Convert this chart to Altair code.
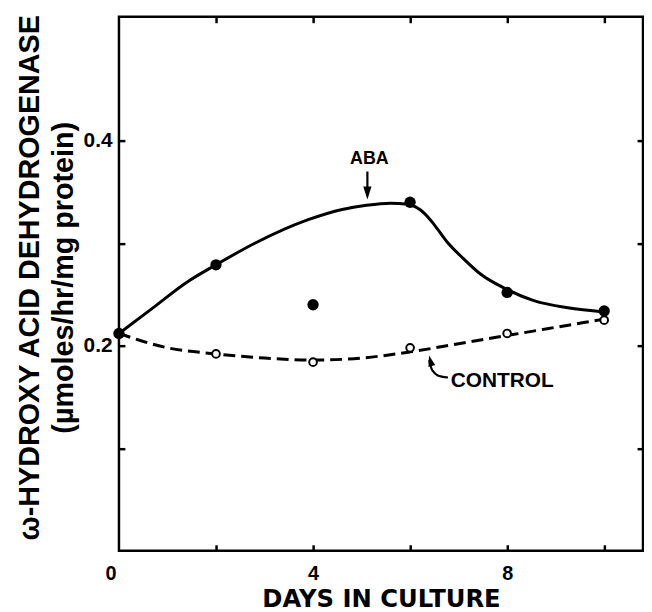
import altair as alt
import pandas as pd

# ---- data ----
days = [0, 2, 4, 6, 8, 10]
aba_values = [0.212, 0.279, 0.240, 0.340, 0.252, 0.234]
control_values = [0.212, 0.192, 0.184, 0.198, 0.212, 0.225]

aba_curve_days = [0, 0.7, 1.4, 2, 2.8, 3.9, 4.6, 5.1, 5.6, 5.95, 6.3, 6.5, 6.75, 7.1, 7.45, 7.95, 8.55, 9.25, 10]
aba_curve_values = [0.212, 0.237, 0.262, 0.279, 0.300, 0.323, 0.333, 0.337, 0.339, 0.338, 0.329, 0.318,
                    0.302, 0.285, 0.270, 0.256, 0.244, 0.237, 0.233]

control_curve_days = [0, 1, 2, 3, 4, 5, 6, 7, 8, 9, 10]
control_curve_values = [0.212, 0.198, 0.192, 0.188, 0.186, 0.188, 0.194, 0.202, 0.210, 0.218, 0.226]

x_tick_values = [2, 4, 6, 8, 10]
x_label_values = [0, 4, 8]
y_tick_values = [0.1, 0.2, 0.3, 0.4]
y_label_values = [0.2, 0.4]

aba_label = ["ABA"]
aba_label_day = [5.16]
aba_label_value = [0.382]
control_label = ["CONTROL"]
control_label_day = [6.84]
control_label_value = [0.166]

aba_arrow_days = [5.12, 5.12]
aba_arrow_values = [0.370, 0.352]
aba_tip_day = [5.12]
aba_tip_value = [0.3427]

control_arrow_days = [6.78, 6.57, 6.46, 6.41, 6.395]
control_arrow_values = [0.1690, 0.1710, 0.1760, 0.1824, 0.1860]
control_tip_day = [6.39]
control_tip_value = [0.1905]

# ---- tables ----
pts = pd.DataFrame({"day": days, "aba": aba_values, "control": control_values})
aba_curve = pd.DataFrame({"day": aba_curve_days, "value": aba_curve_values})
ctl_curve = pd.DataFrame({"day": control_curve_days, "value": control_curve_values})
aba_lab = pd.DataFrame({"day": aba_label_day, "value": aba_label_value, "text": aba_label})
ctl_lab = pd.DataFrame({"day": control_label_day, "value": control_label_value, "text": control_label})
aba_arrow = pd.DataFrame({"day": aba_arrow_days, "value": aba_arrow_values})
ctl_arrow = pd.DataFrame({"day": control_arrow_days, "value": control_arrow_values,
                          "order": list(range(len(control_arrow_days)))})
aba_tip = pd.DataFrame({"day": aba_tip_day, "value": aba_tip_value})
ctl_tip = pd.DataFrame({"day": control_tip_day, "value": control_tip_value})

xs = alt.Scale(domain=[0, 10.8], nice=False, zero=False)
ys = alt.Scale(domain=[0, 0.521], nice=False, zero=False)

LAB_FONT = "Liberation Sans"

x_label_axis = alt.Axis(
    orient="bottom", values=x_label_values, ticks=False, domain=False, grid=False,
    labelFont=LAB_FONT, labelFontSize=20, labelFontWeight="bold", labelColor="black",
    labelPadding=13,
    labelOffset={"condition": {"test": "datum.value === 0", "value": -14}, "value": 0},
    title="DAYS IN CULTURE", titleFont="DejaVu Sans", titleFontWeight="bold",
    titleFontSize=24.5, titleColor="black", titleBaseline="alphabetic", titleY=56,
)
y_label_axis = alt.Axis(
    orient="left", values=y_label_values, format=".1f", ticks=False, domain=False, grid=False,
    labelFont=LAB_FONT, labelFontSize=21, labelFontWeight="bold", labelColor="black",
    labelPadding=7,
    title=["ω-HYDROXY ACID DEHYDROGENASE", "(µmoles/hr/mg protein)"],
    titleFont=LAB_FONT, titleFontWeight="bold", titleFontSize=29, titleColor="black",
    titleLineHeight=34, titleBaseline="top", titleX=-104, titleY=263, titleAngle=270,
)


def tick_axis(orient, values):
    return alt.Axis(orient=orient, values=values, offset=-6, tickSize=6, tickWidth=2.5,
                    tickColor="black", labels=False, domain=False, grid=False, title=None)


def enc(chart, ycol="value"):
    return chart.encode(
        x=alt.X("day:Q", scale=xs, axis=None),
        y=alt.Y(f"{ycol}:Q", scale=ys, axis=None),
    )


aba_line = alt.Chart(aba_curve).mark_line(color="black", strokeWidth=3, interpolate="monotone").encode(
    x=alt.X("day:Q", scale=xs, axis=x_label_axis),
    y=alt.Y("value:Q", scale=ys, axis=y_label_axis),
)

ctl_line = alt.Chart(ctl_curve).mark_line(color="black", strokeWidth=3, strokeDash=[12, 6],
                                          interpolate="monotone").encode(
    x=alt.X("day:Q", scale=xs, axis=tick_axis("bottom", x_tick_values)),
    y=alt.Y("value:Q", scale=ys, axis=tick_axis("left", y_tick_values)),
)

ctl_pts = alt.Chart(pts).mark_point(shape="circle", filled=True, fill="white", stroke="black",
                                    strokeWidth=2, size=60, opacity=1).encode(
    x=alt.X("day:Q", scale=xs, axis=tick_axis("top", x_tick_values)),
    y=alt.Y("control:Q", scale=ys, axis=tick_axis("right", y_tick_values)),
)

aba_pts = enc(alt.Chart(pts).mark_point(shape="circle", filled=True, color="black", size=130, opacity=1), "aba")

aba_text = enc(alt.Chart(aba_lab).mark_text(font=LAB_FONT, fontWeight="bold", color="black",
                                            baseline="middle", align="center", fontSize=18)).encode(text="text:N")
ctl_text = enc(alt.Chart(ctl_lab).mark_text(font=LAB_FONT, fontWeight="bold", color="black",
                                            baseline="middle", align="left", fontSize=21)).encode(text="text:N")

aba_arrow_line = enc(alt.Chart(aba_arrow).mark_line(color="black", strokeWidth=2.2))
ctl_arrow_line = enc(alt.Chart(ctl_arrow).mark_line(color="black", strokeWidth=2.2,
                                                    interpolate="cardinal")).encode(order="order:O")

ARROW = "M -0.32 -1 L 0.32 -1 L 0 0 Z"
aba_head = enc(alt.Chart(aba_tip).mark_point(shape=ARROW, filled=True, color="black", size=676, opacity=1))
ctl_head = enc(alt.Chart(ctl_tip).mark_point(shape=ARROW, filled=True, color="black", size=484, opacity=1,
                                             angle=165))

chart = alt.layer(
    aba_line, ctl_line, ctl_pts, aba_pts, aba_text, ctl_text, aba_arrow_line, ctl_arrow_line, aba_head, ctl_head
).resolve_axis(x="independent", y="independent").properties(
    width=529, height=539,
    padding={"left": 112, "top": 6, "right": 1, "bottom": 59},
    autosize=alt.AutoSizeParams(type="none"),
    background="white",
).configure_view(stroke="black", strokeWidth=2.5)

chart.save("out.html", embed_options={"renderer": "svg", "actions": False})
